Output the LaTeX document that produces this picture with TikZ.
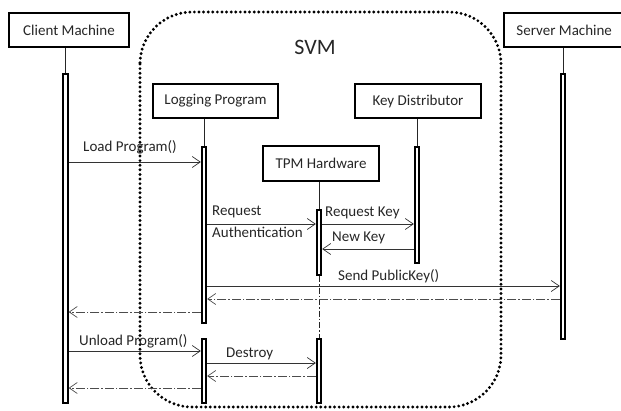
\documentclass[tikz,border=0pt]{standalone}
\usepackage{fontspec}
\setmainfont{Carlito}
\usetikzlibrary{arrows.meta}
\begin{document}
\begin{tikzpicture}[x=1pt,y=-1pt,
  box/.style={draw, line width=2.4pt, minimum height=34pt, inner sep=2pt,
    font=\fontsize{15}{18}\selectfont, text=black!85},
  bar/.style={draw, line width=2pt, fill=white, minimum width=4.3pt, inner sep=0pt, anchor=north},
  life/.style={line width=0.7pt, black!85},
  msg/.style={line width=0.7pt, black!80, -{Straight Barb[length=8pt,width=11pt,line width=0.7pt]}},
  ret/.style={line width=0.7pt, black!70, dash pattern=on 9pt off 2pt on 1.5pt off 2pt,
    -{Straight Barb[length=8pt,width=11pt,line width=0.7pt]}},
  lbl/.style={font=\fontsize{15}{18}\selectfont, text=black!85, inner sep=0pt, anchor=west},
  svm/.style={line width=3.2pt, line cap=round, dash pattern=on 0pt off 4.6pt, rounded corners=52pt}]
\useasboundingbox (0,0) rectangle (621,410);
\clip (0,0) rectangle (621,410);
% SVM boundary
\draw[svm] (140,12) rectangle (501,407);
\node[font=\fontsize{22}{26}\selectfont, text=black!85, inner sep=0pt] (svmlbl) at (315,47) {SVM};
% boxes
\node[box, minimum width=120pt] (cm) at (69,30) {Client Machine};
\node[box, minimum width=125pt] (lp) at (215.5,101) {Logging Program};
\node[box, minimum width=126pt] (kd) at (418,101) {Key Distributor};
\node[box, minimum width=116pt, minimum height=35pt] (tpm) at (321,163.5) {TPM Hardware};
\node[box, minimum width=130pt, anchor=west] (sm) at (503,30) {\hspace*{-10pt}Server Machine};
% activation bars
\node[bar, minimum height=329pt] (cbar) at (65.5,73) {};
\node[bar, minimum height=176pt] (lbar1) at (204,146) {};
\node[bar, minimum height=64pt] (lbar2) at (204,338) {};
\node[bar, minimum height=116pt] (kbar) at (417,146) {};
\node[bar, minimum height=65pt] (tbar1) at (319,209) {};
\node[bar, minimum height=64pt] (tbar2) at (319,338) {};
\node[bar, minimum height=265pt] (sbar) at (563,73) {};
% lifelines
\draw[life] (cbar.north) -- (cbar.north |- cm.south);
\draw[life] (lbar1.north) -- (lbar1.north |- lp.south);
\draw[life] (kbar.north) -- (kbar.north |- kd.south);
\draw[life] (tbar1.north) -- (tbar1.north |- tpm.south);
\draw[life] (sbar.north) -- (sbar.north |- sm.south);
\draw[life, dash pattern=on 6pt off 2pt on 1.5pt off 2pt] (tbar1.south) -- (tbar2.north);
% messages
\draw[msg] (cbar.east |- 0,162) -- (lbar1.west |- 0,162);
\node[lbl] (l1) at (83,147) {Load Program()};
\draw[msg] (lbar1.east |- 0,224) -- (tbar1.west |- 0,224);
\node[lbl] (l2a) at (212,212) {Request};
\node[lbl] (l2b) at (212,232) {Authentication};
\draw[msg] (tbar1.east |- 0,224) -- (kbar.west |- 0,224);
\node[lbl] (l3) at (325,213) {Request Key};
\draw[msg] (kbar.west |- 0,249) -- (tbar1.east |- 0,249);
\node[lbl] (l4) at (332,238) {New Key};
\draw[msg] (lbar1.east |- 0,286) -- (sbar.west |- 0,286);
\node[lbl] (l5) at (338,276) {Send PublicKey()};
\draw[ret] (sbar.west |- 0,299) -- (lbar1.east |- 0,299);
\draw[ret] (lbar1.west |- 0,312) -- (cbar.east |- 0,312);
\draw[msg] (cbar.east |- 0,351) -- (lbar2.west |- 0,351);
\node[lbl] (l6) at (79,341) {Unload Program()};
\draw[msg] (lbar2.east |- 0,363) -- (tbar2.west |- 0,363);
\node[lbl] (l7) at (226,354) {Destroy};
\draw[ret] (tbar2.west |- 0,376) -- (lbar2.east |- 0,376);
\draw[ret] (lbar2.west |- 0,388) -- (cbar.east |- 0,388);
\end{tikzpicture}
\end{document}
